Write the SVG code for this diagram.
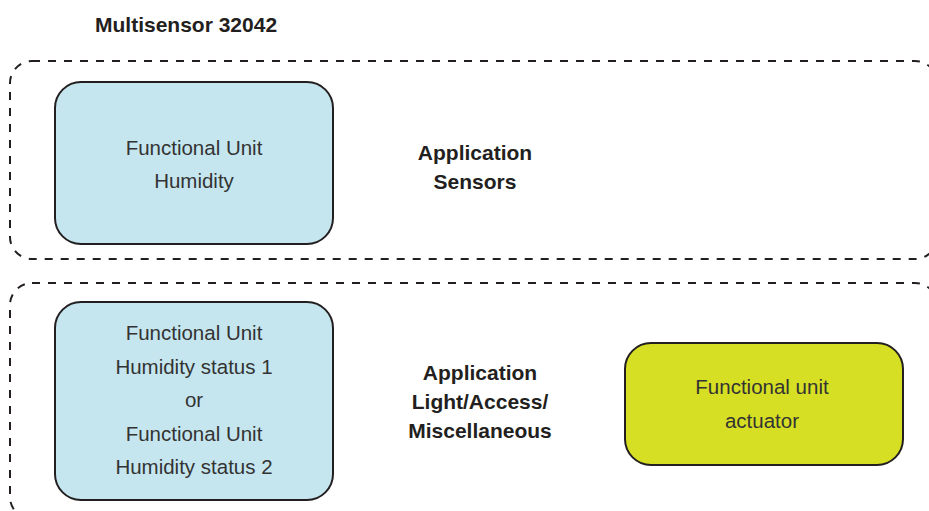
<svg xmlns="http://www.w3.org/2000/svg" width="929" height="511" viewBox="0 0 929 511">
<style>
.grp{fill:none;stroke:#231f20;stroke-width:2;stroke-dasharray:8 8}
.fu{stroke:#231f20;stroke-width:2}
.blue{fill:#c5e6ef}
.yel{fill:#d6df23}
.lt{font-family:"Liberation Sans",Arial,sans-serif;font-size:20.5px;fill:#333;text-anchor:middle}
.bd{font-family:"Liberation Sans",Arial,sans-serif;font-size:21px;font-weight:bold;fill:#231f20;text-anchor:middle}
</style>
<rect width="929" height="511" fill="#fff"/>
<text class="bd" x="95" y="32" style="text-anchor:start">Multisensor 32042</text>
<g id="app-sensors">
<rect class="grp" x="10" y="61" width="927" height="198" rx="22"/>
<text class="bd" x="475" y="160">Application</text>
<text class="bd" x="475" y="189">Sensors</text>
</g>
<g id="app-light">
<rect class="grp" x="10" y="283" width="927" height="236" rx="22"/>
<text class="bd" x="480" y="380">Application</text>
<text class="bd" x="480" y="409">Light/Access/</text>
<text class="bd" x="480" y="438">Miscellaneous</text>
</g>
<g id="fu-humidity">
<rect class="fu blue" x="55" y="82" width="278" height="162" rx="26"/>
<text class="lt" x="194" y="155">Functional Unit</text>
<text class="lt" x="194" y="188">Humidity</text>
</g>
<g id="fu-status">
<rect class="fu blue" x="55" y="302" width="278" height="198" rx="26"/>
<text class="lt" x="194" y="340">Functional Unit</text>
<text class="lt" x="194" y="374">Humidity status 1</text>
<text class="lt" x="194" y="407">or</text>
<text class="lt" x="194" y="441">Functional Unit</text>
<text class="lt" x="194" y="474">Humidity status 2</text>
</g>
<g id="fu-actuator">
<rect class="fu yel" x="625" y="343" width="278" height="122" rx="26"/>
<text class="lt" x="762" y="394">Functional unit</text>
<text class="lt" x="762" y="428">actuator</text>
</g>
<g id="connectors"></g>
</svg>
